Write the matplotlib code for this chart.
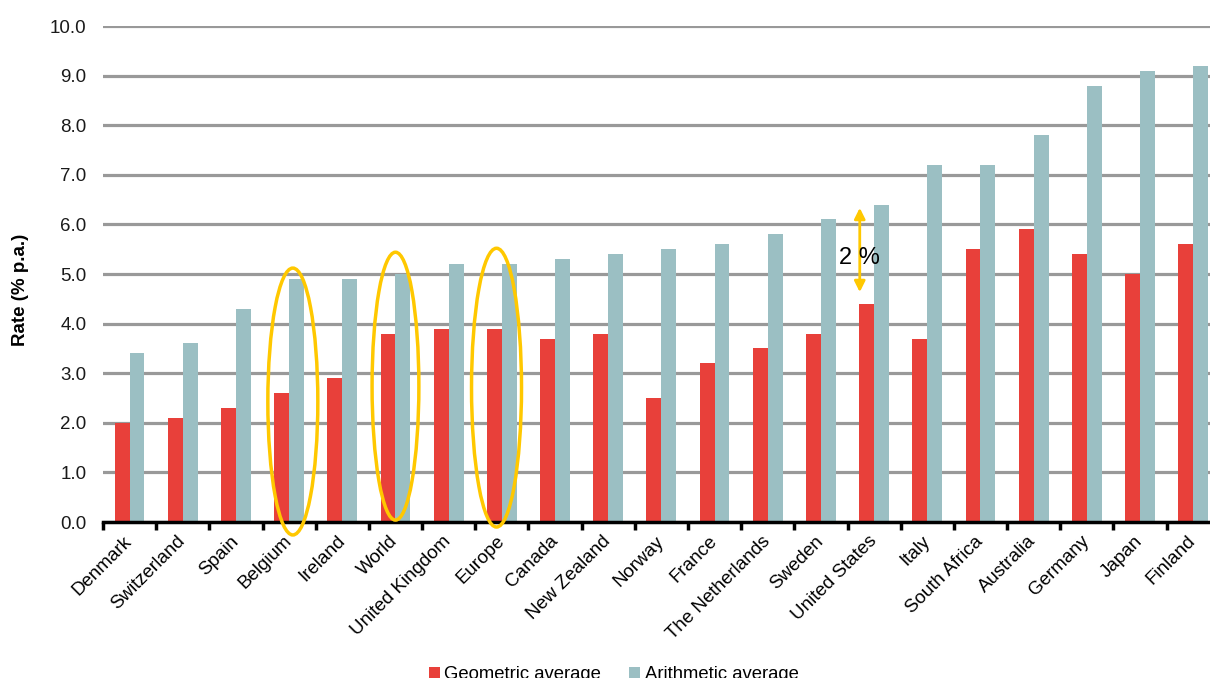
import numpy as np
import matplotlib
matplotlib.use("Agg")
from matplotlib import pyplot as plt
from matplotlib.patches import Ellipse

plt.rcParams['font.family'] = ['Liberation Sans', 'DejaVu Sans']

countries = ["Denmark", "Switzerland", "Spain", "Belgium", "Ireland", "World",
             "United Kingdom", "Europe", "Canada", "New Zealand", "Norway", "France",
             "The Netherlands", "Sweden", "United States", "Italy", "South Africa",
             "Australia", "Germany", "Japan", "Finland"]
geometric = [2.0, 2.1, 2.3, 2.6, 2.9, 3.8, 3.9, 3.9, 3.7, 3.8, 2.5, 3.2,
             3.5, 3.8, 4.4, 3.7, 5.5, 5.9, 5.4, 5.0, 5.6]
arithmetic = [3.4, 3.6, 4.3, 4.9, 4.9, 5.0, 5.2, 5.2, 5.3, 5.4, 5.5, 5.6,
              5.8, 6.1, 6.4, 7.2, 7.2, 7.8, 8.8, 9.1, 9.2]
yticks = np.arange(0, 10.5, 1.0)

red = "#E8403A"
teal = "#9BBFC3"
yellow = "#FFC800"

fig = plt.figure(figsize=(12.1, 6.78), dpi=100)
ax = fig.add_axes([0.0851, 0.230, 0.923, 0.7316])

x = np.arange(len(countries))
w = 0.28
ax.bar(x - w / 2, geometric, w, color=red, label="Geometric average", zorder=3)
ax.bar(x + w / 2, arithmetic, w, color=teal, label="Arithmetic average", zorder=3)

ax.set_xlim(-0.5, len(countries) - 0.5)
ax.set_ylim(0, 10)
ax.set_yticks(yticks)
ax.set_yticklabels(["%.1f" % v for v in yticks], fontsize=13.5, color="#1a1a1a")
ax.yaxis.grid(True, color="#999999", lw=2.3, zorder=0)
ax.set_axisbelow(True)
ax.tick_params(axis='y', length=0, pad=12)

ax.set_xticks(x)
ax.set_xticklabels(countries, rotation=45, ha='right', va='center',
                   rotation_mode='anchor', fontsize=13.5)
ax.tick_params(axis='x', which='major', length=0, pad=12)
ax.set_xticks(np.arange(-0.5, len(countries), 1.0), minor=True)
ax.tick_params(axis='x', which='minor', length=6, width=2.5, color='black', direction='out')

for s in ['top', 'right', 'left']:
    ax.spines[s].set_visible(False)
ax.spines['bottom'].set_linewidth(2.5)
ax.spines['bottom'].set_color('black')
ax.spines['bottom'].set_zorder(5)

ax.set_ylabel("Rate (% p.a.)", fontsize=13.5, fontweight='bold')
ax.yaxis.set_label_coords(-0.066, 0.468)

# highlight ellipses
for cx, cy, ew, eh in [(3.07, 2.43, 0.94, 5.38), (5.0, 2.74, 0.88, 5.4), (6.9, 2.71, 0.94, 5.62)]:
    ax.add_patch(Ellipse((cx, cy), ew, eh, fill=False, edgecolor=yellow, lw=2.5,
                         zorder=6, clip_on=False))

# spread arrow
ax.annotate("", xy=(13.73, 6.39), xytext=(13.73, 4.58),
            arrowprops=dict(arrowstyle="<|-|>", color=yellow, lw=2, mutation_scale=16),
            zorder=6)
ax.text(13.73, 5.32, "2 %", fontsize=17, ha='center', va='center', color='black', zorder=7)

fig.legend(loc='center', bbox_to_anchor=(0.507, 0.005), ncol=2, frameon=False,
           fontsize=13.3, handlelength=0.6, handleheight=0.6, handletextpad=0.25,
           columnspacing=1.5)

fig.savefig("out.png", dpi=100)
